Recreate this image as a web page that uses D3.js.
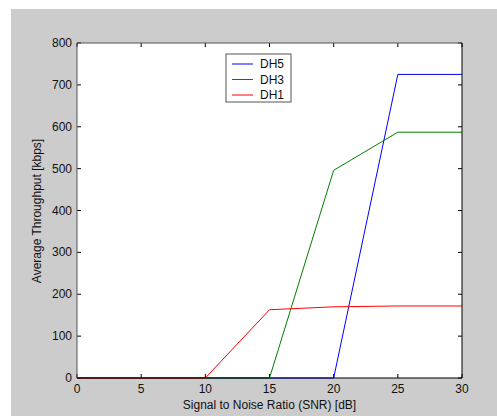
<!DOCTYPE html>
<html>
<head>
<meta charset="utf-8">
<script src="https://cdn.jsdelivr.net/npm/d3@7"></script>
<style>
  body { margin: 0; background: #fff; }
  svg text { font-family: Arial, "Liberation Sans", sans-serif; fill: #111; }
</style>
</head>
<body>
<div id="chart"></div>
<script>
const snr = [0, 5, 10, 15, 20, 25, 30];
const dh5 = [0, 0, 0, 0, 0, 725, 725];
const dh3 = [0, 0, 0, 0, 496, 587, 587];
const dh1 = [0, 0, 0, 163, 170, 172, 172];
const xTicks = [0, 5, 10, 15, 20, 25, 30];
const yTicks = [0, 100, 200, 300, 400, 500, 600, 700, 800];

const series = [
  {name: "DH5", values: dh5, color: "#0000ff"},
  {name: "DH3", values: dh3, color: "#008000"},
  {name: "DH1", values: dh1, color: "#ff0000"}
];

const W = 497, H = 416;
const margin = {top: 43, right: 35, bottom: 38, left: 77};
const width = W - margin.left - margin.right,
      height = H - margin.top - margin.bottom;

const root = d3.select("#chart").append("svg")
  .attr("width", W).attr("height", H);

// figure background
root.append("rect")
  .attr("x", 11).attr("y", 9)
  .attr("width", W - 11).attr("height", H - 9)
  .attr("fill", "#cccccc");

const svg = root.append("g")
  .attr("transform", `translate(${margin.left},${margin.top})`);

const x = d3.scaleLinear().domain([0, 30]).range([0, width]);
const y = d3.scaleLinear().domain([0, 800]).range([height, 0]);

svg.append("rect")
  .attr("width", width).attr("height", height)
  .attr("fill", "#fff");

// inward ticks on all four sides
const tickLen = 4;
svg.append("g").selectAll("line").data(xTicks).enter().append("line")
  .attr("x1", d => x(d)).attr("x2", d => x(d))
  .attr("y1", height).attr("y2", height - tickLen)
  .attr("stroke", "#000");
svg.append("g").selectAll("line").data(xTicks).enter().append("line")
  .attr("x1", d => x(d)).attr("x2", d => x(d))
  .attr("y1", 0).attr("y2", tickLen)
  .attr("stroke", "#000");
svg.append("g").selectAll("line").data(yTicks).enter().append("line")
  .attr("x1", 0).attr("x2", tickLen)
  .attr("y1", d => y(d)).attr("y2", d => y(d))
  .attr("stroke", "#000");
svg.append("g").selectAll("line").data(yTicks).enter().append("line")
  .attr("x1", width).attr("x2", width - tickLen)
  .attr("y1", d => y(d)).attr("y2", d => y(d))
  .attr("stroke", "#000");

// tick labels
svg.append("g").selectAll("text").data(xTicks).enter().append("text")
  .attr("x", d => x(d)).attr("y", height + 15)
  .attr("text-anchor", "middle")
  .style("font-size", "12px")
  .text(d => d);
svg.append("g").selectAll("text").data(yTicks).enter().append("text")
  .attr("x", -5).attr("y", d => y(d) + 4)
  .attr("text-anchor", "end")
  .style("font-size", "12px")
  .text(d => d);

// lines
const line = d3.line()
  .x((d, i) => x(snr[i]))
  .y(d => y(d));

series.forEach(s => {
  svg.append("path")
    .datum(s.values)
    .attr("fill", "none")
    .attr("stroke", s.color)
    .attr("stroke-width", 1)
    .attr("d", line);
});

// axes box (top/left lighter, right/bottom dark)
svg.append("line").attr("x1", 0).attr("x2", width).attr("y1", 0).attr("y2", 0)
  .attr("stroke", "#555");
svg.append("line").attr("x1", 0).attr("x2", 0).attr("y1", 0).attr("y2", height)
  .attr("stroke", "#555");
svg.append("line").attr("x1", width).attr("x2", width).attr("y1", 0).attr("y2", height)
  .attr("stroke", "#000");
svg.append("line").attr("x1", 0).attr("x2", width).attr("y1", height).attr("y2", height)
  .attr("stroke", "#000");

// axis labels
svg.append("text")
  .attr("x", width / 2).attr("y", height + 31)
  .attr("text-anchor", "middle")
  .style("font-size", "12px")
  .text("Signal to Noise Ratio (SNR) [dB]");

svg.append("text")
  .attr("transform", `translate(${41 - margin.left},${211 - margin.top}) rotate(-90)`)
  .attr("text-anchor", "middle")
  .style("font-size", "12px")
  .text("Average Throughput [kbps]");

// legend
const legend = svg.append("g")
  .attr("transform", `translate(${226 - margin.left},${54 - margin.top})`);
legend.append("rect")
  .attr("width", 65).attr("height", 48)
  .attr("fill", "#fff").attr("stroke", "#555");
series.forEach((s, i) => {
  const ly = 10 + i * 15.5;
  legend.append("line")
    .attr("x1", 6).attr("x2", 27)
    .attr("y1", ly).attr("y2", ly)
    .attr("stroke", s.color);
  legend.append("text")
    .attr("x", 34).attr("y", ly + 4)
    .style("font-size", "12px")
    .text(s.name);
});
</script>
</body>
</html>
